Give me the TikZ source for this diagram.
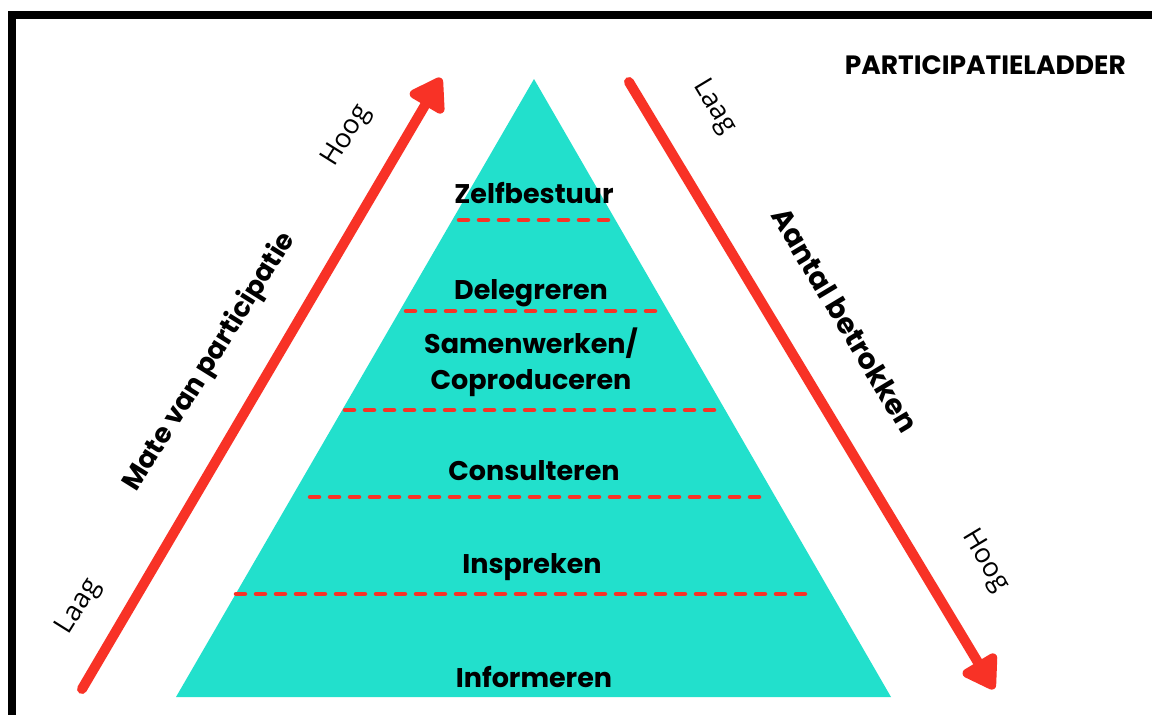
\documentclass[tikz,border=0pt]{standalone}
\usepackage{fontspec}
\usetikzlibrary{arrows.meta}
\newfontfamily\popfont{Poppins}
\newfontfamily\opfont{Open Sans}
\definecolor{ladderteal}{RGB}{34,224,204}
\definecolor{ladderred}{RGB}{248,50,38}
\tikzset{
  lvl/.style={font=\popfont\bfseries\fontsize{27}{30}\selectfont, text=black, inner sep=0pt},
  axislbl/.style={font=\popfont\bfseries\fontsize{27}{30}\selectfont, text=black, inner sep=0pt},
  endlbl/.style={font=\opfont\fontsize{27}{30}\selectfont, text=black, inner sep=0pt},
  sep/.style={ladderred, line width=4.5pt, line cap=round, dash pattern=on 9pt off 11pt},
  bigarrow/.style={ladderred, line width=10pt, line cap=round, -{Triangle[length=36pt,width=44pt,round]}},
}
\begin{document}
\begin{tikzpicture}[x=1pt,y=-1pt]
\useasboundingbox (0,0) rectangle (1152,715);
\fill[white] (0,0) rectangle (1152,715);
% border
\draw[black, line width=8pt] (12,715) -- (12,15) -- (1152,15);
% pyramid
\coordinate (apex) at (534,79);
\coordinate (bl) at (176,697);
\coordinate (br) at (891,697);
\fill[ladderteal] (apex) -- (br) -- (bl) -- cycle;
% separators
\coordinate (s1a) at (459,220); \coordinate (s1b) at (612,220);
\coordinate (s2a) at (406,311); \coordinate (s2b) at (657,311);
\coordinate (s3a) at (345,410); \coordinate (s3b) at (717,410);
\coordinate (s4a) at (310,497); \coordinate (s4b) at (764,497);
\coordinate (s5a) at (236,594); \coordinate (s5b) at (810,594);
\draw[sep] (s1a) -- (s1b);
\draw[sep] (s2a) -- (s2b);
\draw[sep] (s3a) -- (s3b);
\draw[sep] (s4a) -- (s4b);
\draw[sep] (s5a) -- (s5b);
% level labels
\node[lvl] (zelf) at (534,193) {Zelfbestuur};
\node[lvl] (dele) at (531,293) {Delegreren};
\node[lvl] (same) at (531,343) {Samenwerken/};
\node[lvl] (copr) at (531,383) {Coproduceren};
\node[lvl] (cons) at (534,471) {Consulteren};
\node[lvl] (insp) at (532,567) {Inspreken};
\node[lvl] (info) at (534,677) {Informeren};
% title
\node[font=\popfont\bfseries\fontsize{26.5}{29}\selectfont, anchor=east, inner sep=0pt] (title) at (1126,65) {PARTICIPATIELADDER};
% arrows
\coordinate (la) at (82,689);
\coordinate (lb) at (441,78);
\coordinate (ra) at (629,82);
\coordinate (rb) at (994,689);
\draw[bigarrow] (la) -- (lb);
\draw[bigarrow] (ra) -- (rb);
% axis labels
\node[axislbl, rotate=58] (mate) at (210,362) {Mate van participatie};
\node[axislbl, rotate=-59, font=\popfont\bfseries\fontsize{28.5}{31}\selectfont] (aant) at (845,320) {Aantal betrokken};
\node[endlbl, rotate=58] (hoogl) at (347,136) {Hoog};
\node[endlbl, rotate=58] (laagl) at (79,607) {Laag};
\node[endlbl, rotate=-59] (laagr) at (714,107) {Laag};
\node[endlbl, rotate=-59] (hoogr) at (985,561) {Hoog};
\end{tikzpicture}
\end{document}
